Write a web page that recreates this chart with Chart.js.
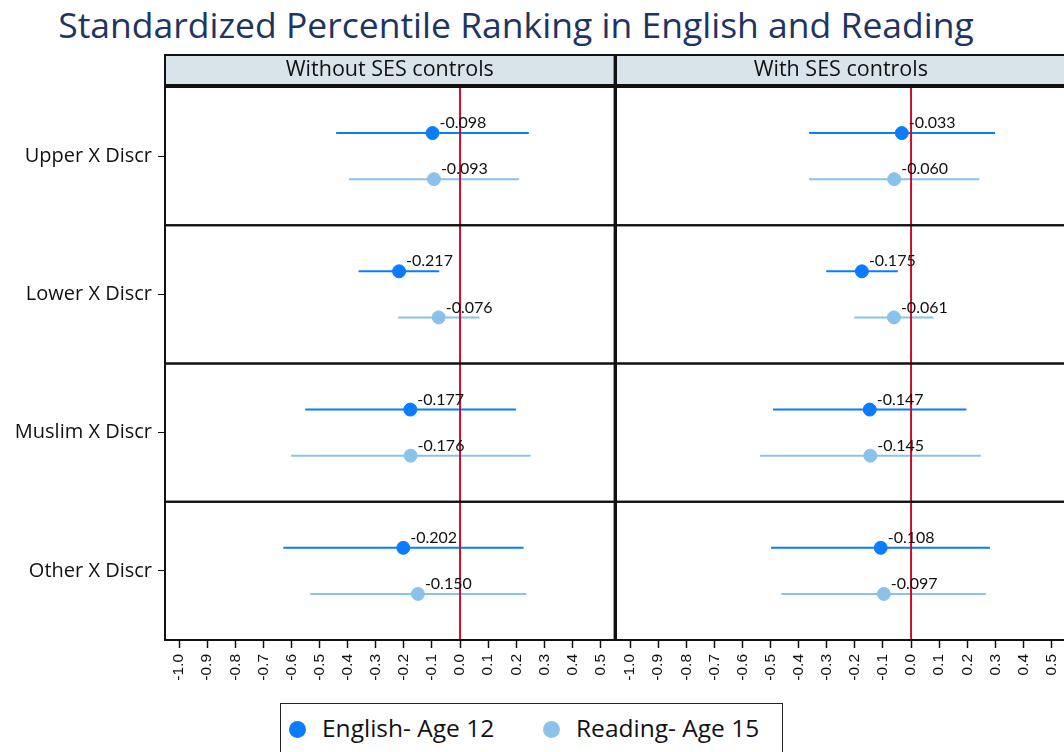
<!DOCTYPE html>
<html lang="en">
<head>
    <meta charset="UTF-8">
    <title>Standardized Percentile Ranking</title>
    <script src="https://cdn.jsdelivr.net/npm/chart.js@4.4.0/dist/chart.umd.min.js"></script>
    <style>
        body {
            margin: 0;
            width: 1064px;
            height: 752px;
            overflow: hidden;
            background: #fff;
            position: relative;
            font-family: "Open Sans", Lato, sans-serif;
        }
        .title {
            position: absolute;
            left: 0;
            top: 0;
            width: 1032px;
            text-align: center;
            font-size: 35.5px;
            color: #1f3460;
        }
        .panel {
            position: absolute;
            top: 50px;
            height: 650px;
        }
        .legend {
            position: absolute;
            left: 280px;
            top: 703px;
            width: 501px;
            height: 60px;
            border: 1.5px solid #222;
            font-size: 24.5px;
            color: #111;
        }
        .legend span.item {
            position: absolute;
            top: 7px;
        }
        .legend i {
            display: inline-block;
            width: 17px;
            height: 17px;
            border-radius: 50%;
            margin-right: 16px;
            vertical-align: -1px;
        }
    </style>
</head>
<body>
    <div class="title">Standardized Percentile Ranking in English and Reading</div>
    <div class="panel" style="left:0; width:616px;"><canvas id="noSes"></canvas></div>
    <div class="panel" style="left:614px; width:460px;"><canvas id="withSes"></canvas></div>
    <div class="legend" id="legend"></div>

    <script>
        const rowLabels = ['Upper X Discr', 'Lower X Discr', 'Muslim X Discr', 'Other X Discr'];
        const panelTitles = ['Without SES controls', 'With SES controls'];
        const seriesNames = ['English- Age 12', 'Reading- Age 15'];
        const xTicks = [-1.0, -0.9, -0.8, -0.7, -0.6, -0.5, -0.4, -0.3, -0.2, -0.1, 0.0, 0.1, 0.2, 0.3, 0.4, 0.5];

        // without SES controls
        const engNo = [-0.098, -0.217, -0.177, -0.202];
        const engNoLo = [-0.441, -0.361, -0.551, -0.629];
        const engNoHi = [0.245, -0.074, 0.199, 0.226];
        const readNo = [-0.093, -0.076, -0.176, -0.150];
        const readNoLo = [-0.395, -0.220, -0.601, -0.533];
        const readNoHi = [0.210, 0.069, 0.251, 0.235];

        // with SES controls
        const engSes = [-0.033, -0.175, -0.147, -0.108];
        const engSesLo = [-0.363, -0.302, -0.491, -0.498];
        const engSesHi = [0.299, -0.047, 0.197, 0.281];
        const readSes = [-0.060, -0.061, -0.145, -0.097];
        const readSesLo = [-0.363, -0.202, -0.537, -0.462];
        const readSesHi = [0.243, 0.080, 0.248, 0.267];

        const engColor = '#0a7cff';
        const readColor = '#8ac2ea';
        const refColor = '#c8102e';

        // position of each series inside a row
        const engShift = 1 / 3;
        const readShift = 2 / 3;

        function ciLine(lo, hi, shift) {
            const pts = [];
            lo.forEach((v, i) => {
                pts.push({ x: v, y: i + shift }, { x: hi[i], y: i + shift }, { x: null, y: null });
            });
            return pts;
        }

        function pointData(vals, shift) {
            return vals.map((v, i) => ({ x: v, y: i + shift }));
        }

        const panelPlugin = {
            id: 'panels',
            afterDatasetsDraw(chart) {
                const { ctx, chartArea, scales } = chart;
                // value labels
                ctx.save();
                ctx.font = '16px Lato, sans-serif';
                ctx.fillStyle = '#111';
                ctx.textAlign = 'left';
                ctx.textBaseline = 'middle';
                [0, 1].forEach(di => {
                    const meta = chart.getDatasetMeta(di);
                    meta.data.forEach((el, i) => {
                        const v = chart.data.datasets[di].data[i].x;
                        ctx.fillText(v.toFixed(3), el.x + 7, el.y - 10);
                    });
                });
                // row boxes
                ctx.strokeStyle = '#111';
                ctx.lineWidth = 2;
                for (let r = 0; r < rowLabels.length; r++) {
                    const y0 = scales.y.getPixelForValue(r);
                    const y1 = scales.y.getPixelForValue(r + 1);
                    ctx.strokeRect(chartArea.left, y0, chartArea.right - chartArea.left, y1 - y0);
                }
                // header strip
                const hTop = chartArea.top - 32;
                ctx.fillStyle = '#d9e4ea';
                ctx.fillRect(chartArea.left, hTop, chartArea.right - chartArea.left, 30);
                ctx.strokeRect(chartArea.left, hTop, chartArea.right - chartArea.left, 30);
                ctx.fillStyle = '#111';
                ctx.font = '21.5px "Open Sans", sans-serif';
                ctx.textAlign = 'center';
                ctx.fillText(chart.options.panelTitle, (chartArea.left + chartArea.right) / 2, hTop + 15);
                ctx.restore();
            }
        };

        function makePanel(id, title, eng, engLo, engHi, read, readLo, readHi, showRows) {
            const ctx = document.getElementById(id).getContext('2d');
            return new Chart(ctx, {
                type: 'scatter',
                data: {
                    datasets: [
                        { label: seriesNames[0], data: pointData(eng, engShift), backgroundColor: engColor, borderColor: engColor, pointRadius: 6.5, pointHoverRadius: 6.5 },
                        { label: seriesNames[1], data: pointData(read, readShift), backgroundColor: readColor, borderColor: readColor, pointRadius: 6.5, pointHoverRadius: 6.5 },
                        { type: 'line', label: 'zero', data: [{ x: 0, y: 0 }, { x: 0, y: rowLabels.length }], borderColor: refColor, borderWidth: 2, pointRadius: 0 },
                        { type: 'line', label: 'ci1', data: ciLine(engLo, engHi, engShift), borderColor: engColor, borderWidth: 2, pointRadius: 0, spanGaps: false },
                        { type: 'line', label: 'ci2', data: ciLine(readLo, readHi, readShift), borderColor: readColor, borderWidth: 2, pointRadius: 0, spanGaps: false }
                    ]
                },
                options: {
                    panelTitle: title,
                    responsive: true,
                    maintainAspectRatio: false,
                    animation: false,
                    layout: {
                        autoPadding: false,
                        padding: showRows ? { top: 37, right: 1.4, left: 0, bottom: 0 } : { top: 37, right: 8.4, left: 2, bottom: 0 }
                    },
                    scales: {
                        x: {
                            type: 'linear',
                            min: -1.05,
                            max: 0.55,
                            afterBuildTicks: scale => { scale.ticks = xTicks.map(v => ({ value: v })); },
                            afterFit: scale => {
                                scale.height = 60;
                                scale.paddingLeft = 0;
                                scale.paddingRight = 0;
                            },
                            grid: { drawOnChartArea: false, color: '#111', tickLength: 8, tickWidth: 1.5 },
                            border: { display: true, color: '#111', width: 2 },
                            ticks: {
                                minRotation: 90,
                                maxRotation: 90,
                                autoSkip: false,
                                padding: 6,
                                color: '#111',
                                font: { family: 'Liberation Sans, Arial, sans-serif', size: 15.5 },
                                callback: v => v.toFixed(1)
                            }
                        },
                        y: {
                            type: 'linear',
                            min: 0,
                            max: rowLabels.length,
                            reverse: true,
                            display: showRows,
                            afterBuildTicks: scale => { scale.ticks = rowLabels.map((_, i) => ({ value: i + 0.5 })); },
                            afterFit: scale => { scale.width = showRows ? 165 : 0; },
                            grid: { drawOnChartArea: false, color: '#111', tickLength: 7, tickWidth: 1 },
                            border: { display: true, color: '#111', width: 2 },
                            ticks: {
                                color: '#111',
                                padding: 6,
                                font: { family: '"Open Sans", sans-serif', size: 20 },
                                callback: v => rowLabels[Math.floor(v)]
                            }
                        }
                    },
                    plugins: {
                        legend: { display: false },
                        tooltip: { enabled: false }
                    }
                },
                plugins: [panelPlugin]
            });
        }

        makePanel('noSes', panelTitles[0], engNo, engNoLo, engNoHi, readNo, readNoLo, readNoHi, true);
        makePanel('withSes', panelTitles[1], engSes, engSesLo, engSesHi, readSes, readSesLo, readSesHi, false);

        // legend
        const legend = document.getElementById('legend');
        [engColor, readColor].forEach((c, i) => {
            const item = document.createElement('span');
            item.className = 'item';
            item.style.left = i === 0 ? '8px' : '262px';
            item.innerHTML = `<i style="background:${c}"></i>${seriesNames[i]}`;
            legend.appendChild(item);
        });
    </script>
</body>
</html>
